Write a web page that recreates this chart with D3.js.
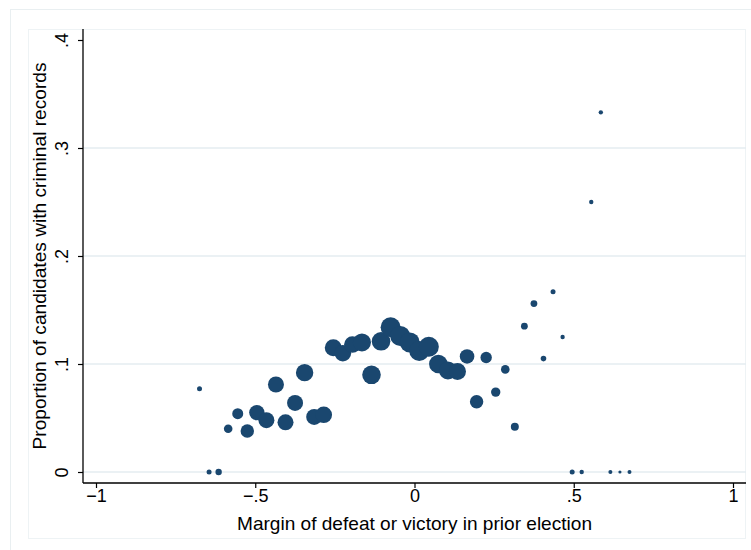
<!DOCTYPE html>
<html>
<head>
<meta charset="utf-8">
<script src="https://cdn.jsdelivr.net/npm/d3@7"></script>
<style>
  html, body { margin: 0; padding: 0; background: #fff; }
  svg { display: block; font-family: "Liberation Sans", Arial, Helvetica, sans-serif; }
</style>
</head>
<body>
<svg id="chart" width="751" height="550"></svg>
<script>
// Bin midpoints of the prior-election margin (defeat < 0 < victory)
const marginBins = [
  -0.675, -0.645, -0.615, -0.585, -0.555, -0.525, -0.495, -0.465, -0.435, -0.405,
  -0.375, -0.345, -0.315, -0.285, -0.255, -0.225, -0.195, -0.165, -0.135, -0.105,
  -0.075, -0.045, -0.015, 0.015, 0.045, 0.075, 0.105, 0.135, 0.165, 0.195,
  0.225, 0.255, 0.285, 0.315, 0.345, 0.375, 0.405, 0.435, 0.465, 0.495,
  0.525, 0.555, 0.585, 0.615, 0.645, 0.675
];
// Share of candidates in each bin with a criminal record
const criminalShare = [
  0.077, 0, 0, 0.040, 0.054, 0.038, 0.055, 0.048, 0.081, 0.046,
  0.064, 0.092, 0.051, 0.053, 0.115, 0.110, 0.118, 0.120, 0.090, 0.121,
  0.134, 0.126, 0.120, 0.112, 0.116, 0.100, 0.094, 0.093, 0.107, 0.065,
  0.106, 0.074, 0.095, 0.042, 0.135, 0.156, 0.105, 0.167, 0.125, 0,
  0, 0.250, 0.333, 0, 0, 0
];
// Number of candidates per bin (marker area is proportional to it)
const candidateCount = [
  25, 25, 41, 74, 121, 180, 237, 256, 256, 256,
  256, 303, 256, 276, 289, 276, 276, 324, 346, 346,
  400, 400, 400, 400, 400, 346, 324, 289, 213, 180,
  130, 88, 74, 64, 46, 46, 31, 25, 19, 25,
  19, 19, 19, 16, 10, 16
];
const xTicks = [-1, -0.5, 0, 0.5, 1];
const xTickLabels = ["\u22121", "\u2212.5", "0", ".5", "1"];
const yTicks = [0, 0.1, 0.2, 0.3, 0.4];
const yTickLabels = ["0", ".1", ".2", ".3", ".4"];
const xTitle = "Margin of defeat or victory in prior election";
const yTitle = "Proportion of candidates with criminal records";

const points = marginBins.map((m, i) => ({ m, p: criminalShare[i], n: candidateCount[i] }));

const svg = d3.select("#chart");
const markerColor = "#1a476f";
const frameColor = "#e9eff1";
const gridColor = "#e4edf0";

// Outer graph frame and inner plot frame
svg.append("rect").attr("x", 10.5).attr("y", 9.5).attr("width", 760).attr("height", 560)
  .attr("fill", "#fff").attr("stroke", frameColor).attr("stroke-width", 1);
svg.append("rect").attr("x", 28.5).attr("y", 29.5).attr("width", 717).attr("height", 509)
  .attr("fill", "#fff").attr("stroke", "#eef3f5").attr("stroke-width", 1);

const plot = { left: 83, right: 746, top: 29, bottom: 483 };

const x = d3.scaleLinear().domain([-1, 1]).range([96, 733]);
const y = d3.scaleLinear().domain([0, 0.4]).range([472, 40]);
const r = d3.scaleSqrt().domain([0, 400]).range([0, 10]);

// Horizontal gridlines
svg.append("g").selectAll("line")
  .data(yTicks.filter(t => t < 0.4))
  .join("line")
  .attr("x1", plot.left).attr("x2", plot.right)
  .attr("y1", d => y(d)).attr("y2", d => y(d))
  .attr("stroke", gridColor).attr("stroke-width", 1.4);

// Weighted markers
svg.append("g").selectAll("circle")
  .data(points)
  .join("circle")
  .attr("cx", d => x(d.m))
  .attr("cy", d => y(d.p))
  .attr("r", d => r(d.n))
  .attr("fill", markerColor);

// Y axis
const yAxis = d3.axisLeft(y).tickValues(yTicks).tickSize(5)
  .tickFormat((d, i) => yTickLabels[i]);
const gy = svg.append("g").attr("transform", `translate(${plot.left},0)`).call(yAxis);
gy.select(".domain").attr("d", `M0,${plot.top}V${plot.bottom}`).attr("stroke", "#000").attr("stroke-width", 1.3);
gy.selectAll(".tick line").attr("stroke", "#000").attr("stroke-width", 1.2);
gy.selectAll(".tick text")
  .attr("x", null).attr("dy", null)
  .attr("transform", "translate(-15,0) rotate(-90)")
  .attr("text-anchor", "middle")
  .attr("font-size", 18).attr("fill", "#000");

// X axis
const xAxis = d3.axisBottom(x).tickValues(xTicks).tickSize(5)
  .tickFormat((d, i) => xTickLabels[i]);
const gx = svg.append("g").attr("transform", `translate(0,${plot.bottom})`).call(xAxis);
gx.select(".domain").attr("d", `M${plot.left},0H${plot.right}`).attr("stroke", "#000").attr("stroke-width", 1.3);
gx.selectAll(".tick line").attr("stroke", "#000").attr("stroke-width", 1.2);
gx.selectAll(".tick text")
  .attr("y", 19).attr("dy", null)
  .attr("font-size", 18).attr("fill", "#000");

// Axis titles
svg.append("text")
  .attr("x", 414.5).attr("y", 530)
  .attr("text-anchor", "middle")
  .attr("font-size", 18.5)
  .attr("textLength", 355).attr("lengthAdjust", "spacingAndGlyphs")
  .attr("fill", "#000")
  .text(xTitle);

svg.append("text")
  .attr("transform", "translate(46,256) rotate(-90)")
  .attr("text-anchor", "middle")
  .attr("font-size", 18.5)
  .attr("textLength", 387).attr("lengthAdjust", "spacingAndGlyphs")
  .attr("fill", "#000")
  .text(yTitle);
</script>
</body>
</html>
